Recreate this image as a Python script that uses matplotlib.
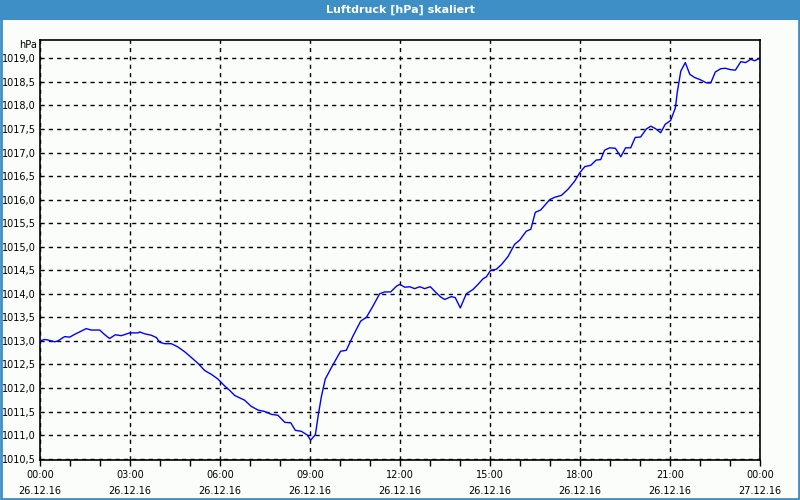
import matplotlib
matplotlib.use("Agg")
import matplotlib.pyplot as plt
from matplotlib.patches import Rectangle
from matplotlib.ticker import MultipleLocator

# ---- data (hours since 26.12.16 00:00, pressure hPa) ----
hours = [0.0, 0.16, 0.32, 0.49, 0.6, 0.82, 0.99, 1.16, 1.38, 1.54, 1.71, 1.99,
         2.16, 2.32, 2.51, 2.71, 2.99, 3.27, 3.32, 3.49, 3.71, 3.88, 3.99, 4.16,
         4.38, 4.6, 4.82, 5.04, 5.27, 5.49, 5.71, 5.93, 6.16, 6.32, 6.49, 6.82,
         7.04, 7.27, 7.49, 7.71, 7.93, 8.16, 8.36, 8.51, 8.71, 8.91, 9.02, 9.18,
         9.27, 9.38, 9.51, 9.71, 9.88, 10.02, 10.21, 10.43, 10.69, 10.88, 11.1,
         11.32, 11.49, 11.69, 11.88, 11.99, 12.16, 12.32, 12.49, 12.66, 12.82,
         13.01, 13.21, 13.36, 13.49, 13.71, 13.84, 14.01, 14.21, 14.43, 14.6,
         14.77, 14.88, 15.02, 15.21, 15.38, 15.6, 15.82, 15.99, 16.21, 16.36,
         16.51, 16.69, 16.99, 17.16, 17.38, 17.6, 17.82, 17.99, 18.16, 18.36,
         18.54, 18.69, 18.82, 18.99, 19.18, 19.36, 19.52, 19.69, 19.84, 20.02,
         20.21, 20.36, 20.51, 20.69, 20.84, 21.02, 21.18, 21.24, 21.36, 21.51,
         21.66, 21.83, 22.0, 22.21, 22.36, 22.51, 22.69, 22.84, 23.02, 23.18,
         23.36, 23.52, 23.69, 23.82, 23.95]
pressure = [1013.00, 1013.03, 1013.01, 1012.98, 1013.00, 1013.09, 1013.08, 1013.14,
            1013.21, 1013.26, 1013.23, 1013.23, 1013.13, 1013.05, 1013.13, 1013.11,
            1013.17, 1013.17, 1013.19, 1013.15, 1013.12, 1013.07, 1012.97, 1012.94,
            1012.94, 1012.87, 1012.77, 1012.65, 1012.52, 1012.37, 1012.29, 1012.19,
            1012.04, 1011.95, 1011.84, 1011.74, 1011.61, 1011.53, 1011.50, 1011.44,
            1011.42, 1011.27, 1011.26, 1011.10, 1011.08, 1011.00, 1010.89, 1011.01,
            1011.40, 1011.82, 1012.19, 1012.43, 1012.62, 1012.78, 1012.80, 1013.10,
            1013.42, 1013.50, 1013.74, 1014.00, 1014.04, 1014.04, 1014.16, 1014.20,
            1014.14, 1014.15, 1014.11, 1014.15, 1014.11, 1014.15, 1014.02, 1013.93,
            1013.88, 1013.94, 1013.92, 1013.70, 1014.00, 1014.09, 1014.20, 1014.32,
            1014.36, 1014.50, 1014.52, 1014.62, 1014.79, 1015.05, 1015.14, 1015.33,
            1015.37, 1015.73, 1015.78, 1016.00, 1016.05, 1016.09, 1016.22, 1016.39,
            1016.57, 1016.70, 1016.73, 1016.84, 1016.85, 1017.05, 1017.10, 1017.09,
            1016.91, 1017.10, 1017.10, 1017.32, 1017.33, 1017.50, 1017.56, 1017.51,
            1017.42, 1017.60, 1017.68, 1017.95, 1018.27, 1018.73, 1018.91, 1018.66,
            1018.59, 1018.55, 1018.48, 1018.48, 1018.71, 1018.78, 1018.79, 1018.76,
            1018.75, 1018.93, 1018.91, 1018.98, 1018.95, 1018.99]

x_ticks = [0, 3, 6, 9, 12, 15, 18, 21, 24]
x_labels = ["00:00\n26.12.16", "03:00\n26.12.16", "06:00\n26.12.16",
            "09:00\n26.12.16", "12:00\n26.12.16", "15:00\n26.12.16",
            "18:00\n26.12.16", "21:00\n26.12.16", "00:00\n27.12.16"]
y_ticks = [1010.5, 1011.0, 1011.5, 1012.0, 1012.5, 1013.0, 1013.5, 1014.0,
           1014.5, 1015.0, 1015.5, 1016.0, 1016.5, 1017.0, 1017.5, 1018.0,
           1018.5, 1019.0]
title = "Luftdruck [hPa] skaliert"
unit = "hPa"

BG = "#fbfdfb"
BLUE = "#3d8fc6"

fig = plt.figure(figsize=(8, 5), dpi=100, facecolor=BG)

# title bar and frame
fig.patches.append(Rectangle((0, 1 - 20 / 500), 1, 20 / 500, transform=fig.transFigure,
                             facecolor=BLUE, edgecolor="none", zorder=0))
fig.patches.append(Rectangle((0.0015, 0.002), 0.997, 0.996, transform=fig.transFigure,
                             facecolor="none", edgecolor=BLUE, linewidth=2, zorder=1))
fig.text(0.5, 1 - 9.5 / 500, title, ha="center", va="center", color="white",
         fontsize=8, fontweight="bold", family="DejaVu Sans")

ax = fig.add_axes([40 / 800, 40 / 500, 720 / 800, 420 / 500])
ax.set_facecolor(BG)
ax.plot(hours, pressure, color="#0000ff", linewidth=1.0, zorder=3)

ax.set_xlim(0, 24)
ax.set_ylim(1010.47, 1019.39)
ax.set_xticks(x_ticks)
ax.set_xticklabels(x_labels, fontsize=7, linespacing=1.75)
ax.xaxis.set_minor_locator(MultipleLocator(1))
ax.set_yticks(y_ticks)
ax.set_yticklabels([f"{v:.1f}".replace(".", ",") for v in y_ticks], fontsize=7)

ax.tick_params(axis="x", which="both", direction="out", length=4, width=1, pad=3,
               colors="black")
ax.tick_params(axis="y", which="both", length=0, pad=3)
ax.grid(True, which="major", color="black", linestyle=(0, (3, 3)), linewidth=1)

for s in ax.spines.values():
    s.set_color("black")
    s.set_linewidth(1.2)

ax.text(-0.004, 1.0, unit, transform=ax.transAxes, ha="right", va="top", fontsize=7)

fig.savefig("out.png", dpi=100, facecolor=BG)
